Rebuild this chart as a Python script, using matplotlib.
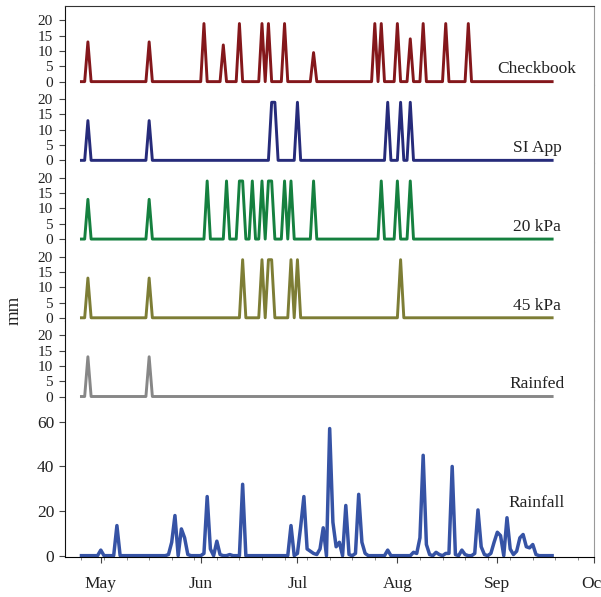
import numpy as np
import pandas as pd
import matplotlib
matplotlib.use("Agg")
import matplotlib.pyplot as plt
import matplotlib.dates as mdates

plt.rcParams['font.family'] = ['Liberation Serif', 'DejaVu Serif']

season_start = "2021-04-25"
season_end = "2021-09-18"

# irrigation events, mm
checkbook_dates = ["04-27", "05-16", "06-02", "06-08", "06-13", "06-20", "06-22", "06-27",
                   "07-06", "07-25", "07-27", "08-01", "08-05", "08-09", "08-16", "08-23"]
checkbook_mm = [13, 13, 19, 12, 19, 19, 19, 19, 9.5, 19, 19, 19, 14, 19, 19, 19]

siapp_dates = ["04-27", "05-16", "06-23", "06-24", "07-01", "07-29", "08-02", "08-05"]
siapp_mm = [13, 13, 19, 19, 19, 19, 19, 19]

kpa20_dates = ["04-27", "05-16", "06-03", "06-09", "06-13", "06-14", "06-17", "06-20",
               "06-22", "06-23", "06-27", "06-29", "07-06", "07-27", "08-01", "08-05"]
kpa20_mm = [13, 13, 19, 19, 19, 19, 19, 19, 19, 19, 19, 19, 19, 19, 19, 19]

kpa45_dates = ["04-27", "05-16", "06-14", "06-20", "06-22", "06-23", "06-29", "07-01", "08-02"]
kpa45_mm = [13, 13, 19, 19, 19, 19, 19, 19, 19]

rainfed_dates = ["04-27", "05-16"]
rainfed_mm = [13, 13]

# daily rainfall, mm (days not listed had none)
rain_dates = ["05-01", "05-06", "05-22", "05-23", "05-24", "05-26", "05-27", "05-28",
              "06-02", "06-03", "06-04", "06-06", "06-07", "06-10", "06-14", "06-29",
              "07-01", "07-02", "07-03", "07-04", "07-05", "07-06", "07-07", "07-08",
              "07-09", "07-11", "07-12", "07-13", "07-14", "07-16", "07-17", "07-19",
              "07-20", "07-21", "07-22", "07-29", "08-06", "08-07", "08-08", "08-09",
              "08-10", "08-11", "08-13", "08-14", "08-16", "08-17", "08-18", "08-19",
              "08-21", "08-22", "08-25", "08-26", "08-27", "08-28", "08-30", "08-31",
              "09-01", "09-02", "09-04", "09-05", "09-06", "09-07", "09-08", "09-09",
              "09-10", "09-11", "09-12", "09-13"]
rain_mm = [2.5, 13.5, 0.5, 6, 18, 12, 8, 0.5,
           1, 26.5, 3, 6.5, 0.5, 0.5, 32, 13.5,
           1, 13, 26.5, 3, 2, 1, 0.5, 3,
           12.5, 57, 15, 4, 6, 22.5, 0.5, 1,
           27.5, 6, 1, 2.5, 1.5, 1, 8, 45,
           5, 0.5, 1.5, 0.5, 1, 1, 40, 0.5,
           2.5, 0.5, 1, 20.5, 4, 0.5, 1, 6,
           10.5, 9, 17, 3, 0.5, 2, 8, 9.5,
           4, 3.5, 5, 0.5]

panels = [
    ("Checkbook", checkbook_dates, checkbook_mm, "#84171b"),
    ("SI App", siapp_dates, siapp_mm, "#262b7a"),
    ("20 kPa", kpa20_dates, kpa20_mm, "#15803f"),
    ("45 kPa", kpa45_dates, kpa45_mm, "#7d7d35"),
    ("Rainfed", rainfed_dates, rainfed_mm, "#878787"),
]

days = pd.date_range(season_start, season_end, freq="D")


def daily(dates, values):
    s = pd.Series(values, index=pd.to_datetime(["2021-" + d for d in dates]))
    return s.reindex(days, fill_value=0)


fig = plt.figure(figsize=(6.01, 5.97), dpi=100)
gs = fig.add_gridspec(6, 1, height_ratios=[1, 1, 1, 1, 1, 2], hspace=0)
fig.subplots_adjust(left=0.1087, right=0.9884, top=0.99, bottom=0.067)

axes = []
for i in range(6):
    ax = fig.add_subplot(gs[i], sharex=axes[0] if axes else None)
    axes.append(ax)

for ax, (name, dts, vals, col) in zip(axes[:5], panels):
    s = daily(dts, vals)
    ax.plot(s.index, s.values, color=col, lw=2.1)
    ax.set_ylim(-1, 24.75)
    ax.set_yticks([0, 5, 10, 15, 20])
    ax.tick_params(axis='y', labelsize=11, length=4, pad=5, color='#444444',
                   labelcolor='#222222')
    ax.text(0.892, 4, name, transform=ax.get_yaxis_transform(),
            ha='center', va='center', fontsize=12.5, color='#222222')

rain = daily(rain_dates, rain_mm)
axr = axes[5]
axr.plot(rain.index, rain.values, color="#3653a5", lw=2.5)
axr.set_ylim(-0.6, 70)
axr.set_yticks([0, 20, 40, 60])
axr.tick_params(axis='y', labelsize=12.5, length=4, pad=4, color='#444444',
                labelcolor='#222222')
axr.text(0.892, 23.7, "Rainfall", transform=axr.get_yaxis_transform(),
         ha='center', va='center', fontsize=12.5, color='#222222')

for i, ax in enumerate(axes):
    ax.spines['left'].set_color('#111111')
    ax.spines['right'].set_color('#999999')
    ax.spines['top'].set_visible(i == 0)
    ax.spines['top'].set_color('#333333')
    ax.spines['bottom'].set_visible(i == 5)
    if i < 5:
        ax.tick_params(axis='x', bottom=False, labelbottom=False, which='both')

axr.set_xlim(pd.Timestamp("2021-04-20"), pd.Timestamp("2021-10-01"))
axr.xaxis.set_major_locator(mdates.MonthLocator())
axr.xaxis.set_major_formatter(mdates.DateFormatter("%b"))
axr.xaxis.set_minor_locator(mdates.WeekdayLocator(byweekday=mdates.SU))
axr.tick_params(axis='x', which='major', labelsize=12.5, length=4, pad=10,
                color='#444444', labelcolor='#222222')
axr.tick_params(axis='x', which='minor', length=2.5, color='#777777')

fig.text(0.024, 1 - 310 / 597, "mm", rotation=90, ha='center', va='center',
         fontsize=13.5, color='#222222')

fig.savefig("out.png", dpi=100)
